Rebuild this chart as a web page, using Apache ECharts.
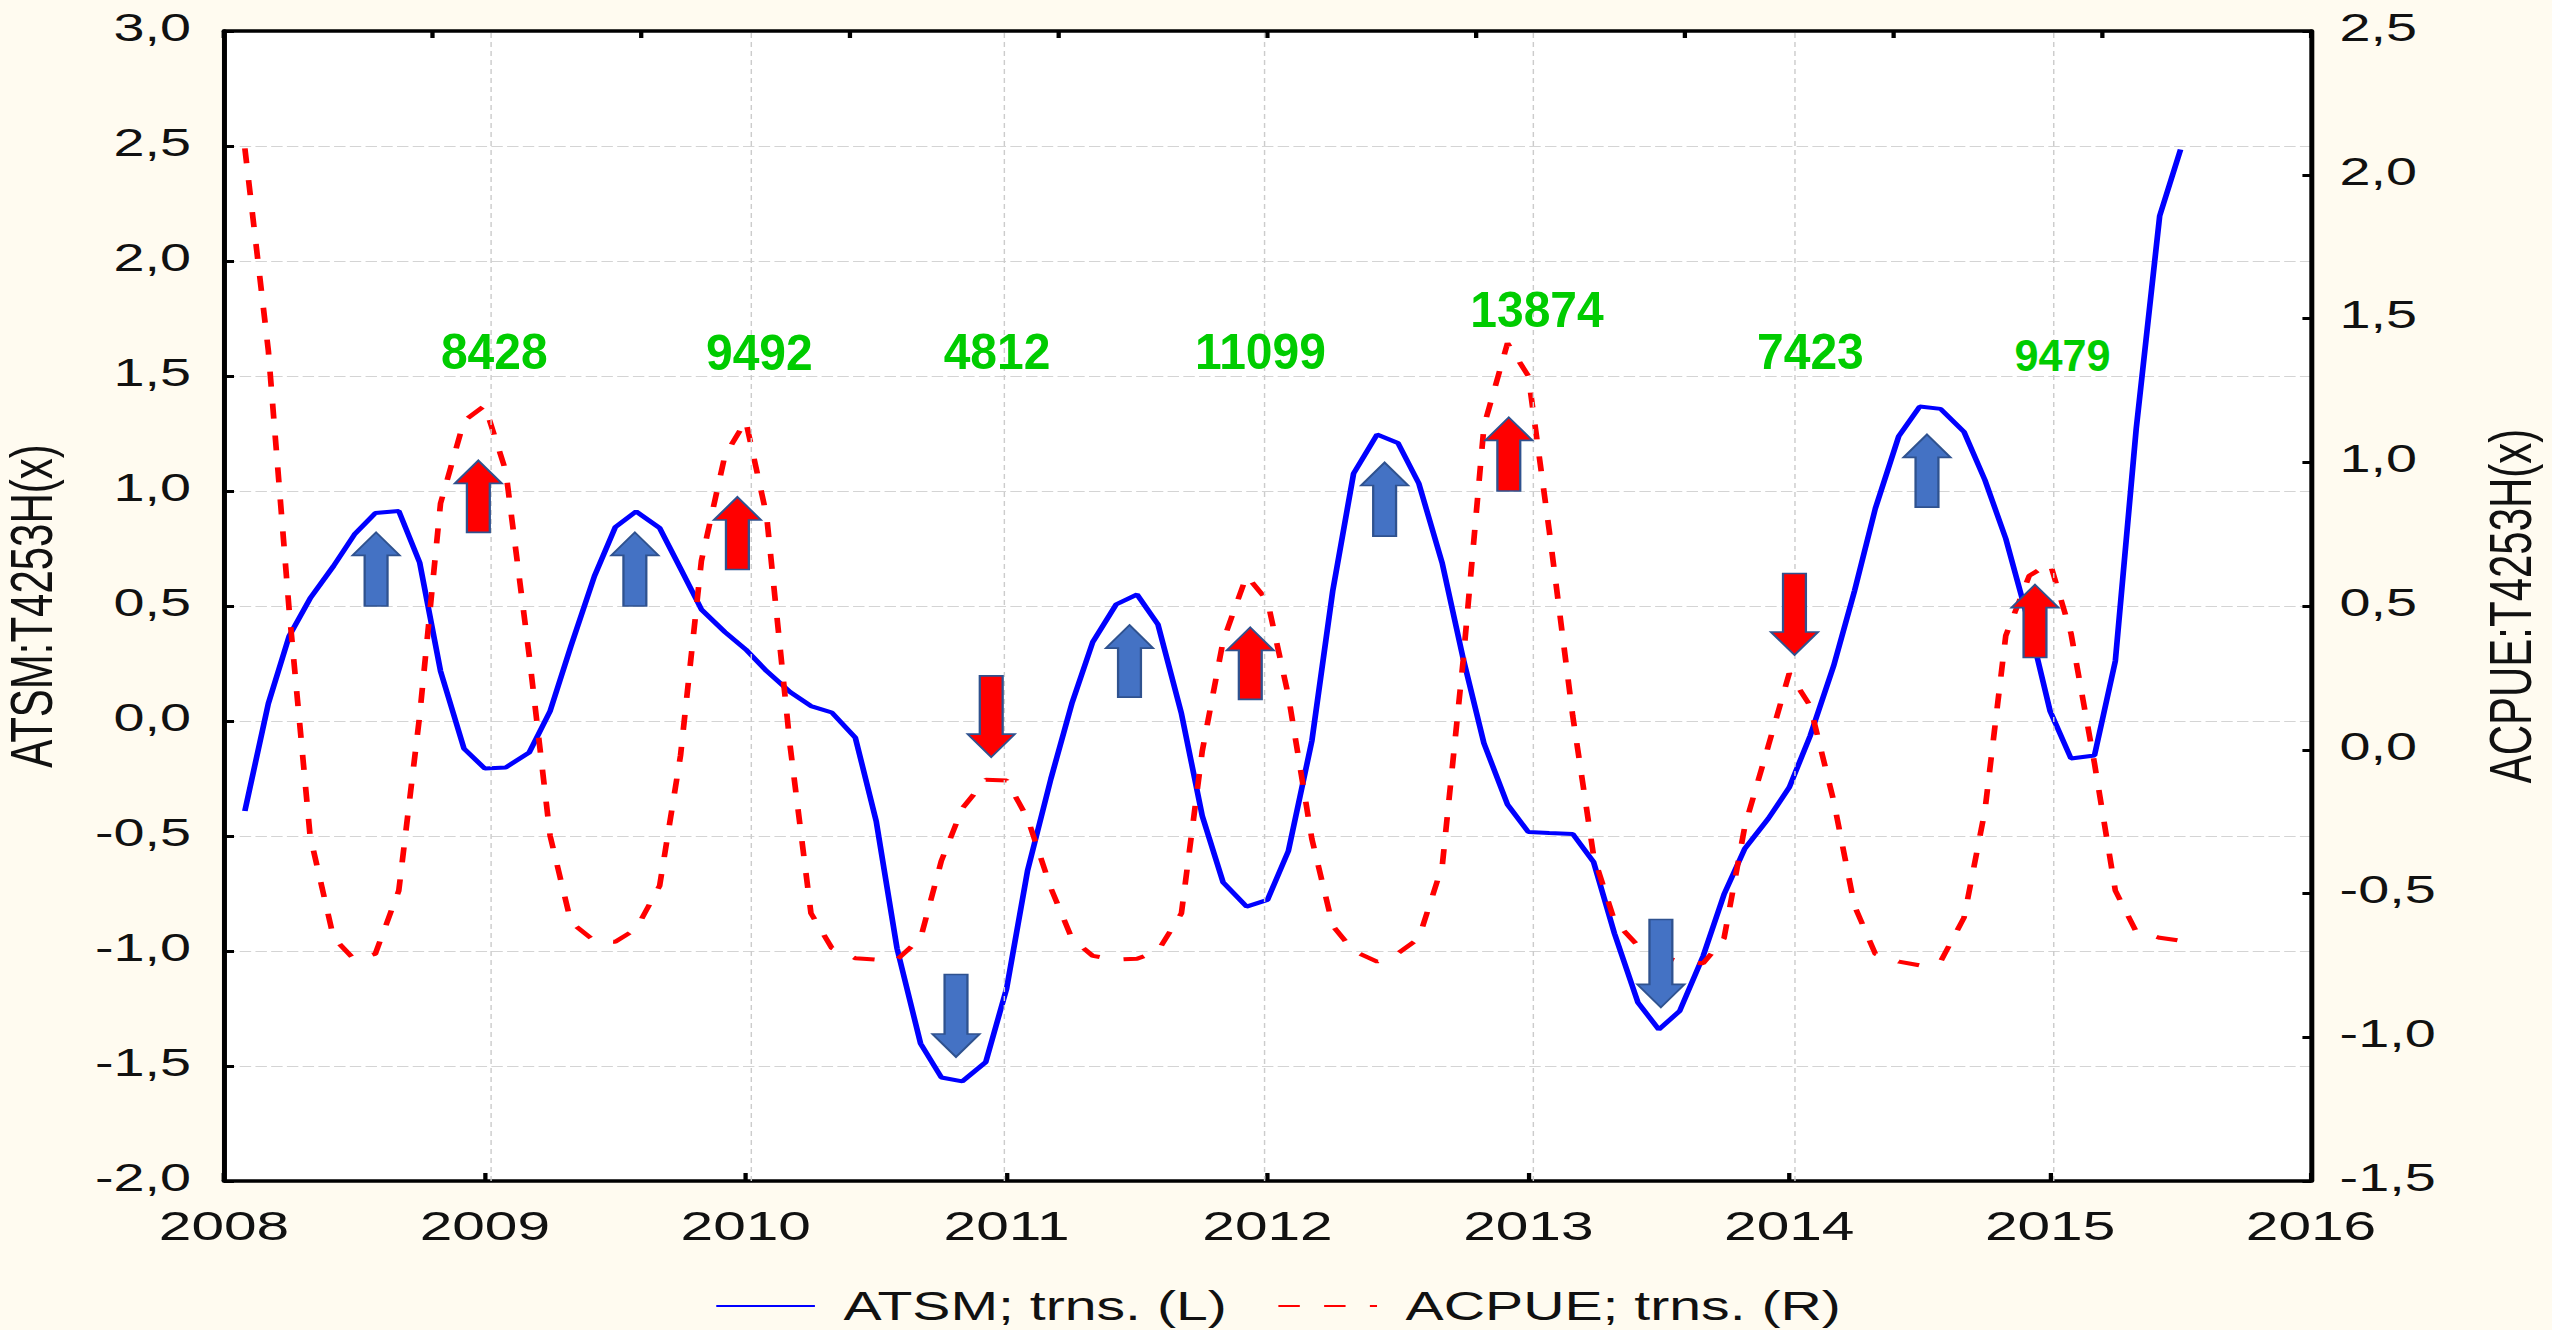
<!DOCTYPE html>
<html>
<head>
<meta charset="utf-8">
<script src="https://cdn.jsdelivr.net/npm/echarts@6/dist/echarts.min.js"></script>
<style>
html,body{margin:0;padding:0;background:#FFFBF0;overflow:hidden;width:2552px;height:1330px}
#c{width:1785px;height:1330px;transform-origin:0 0;transform:scaleX(1.42969)}
</style>
</head>
<body>
<div id="c"></div>
<script>
var dates=[2008.08,2008.17,2008.25,2008.33,2008.42,2008.5,2008.58,2008.67,2008.75,2008.83,2008.92,
2009,2009.08,2009.17,2009.25,2009.33,2009.42,2009.5,2009.58,2009.67,2009.75,2009.83,2009.92,
2010,2010.08,2010.17,2010.25,2010.33,2010.42,2010.5,2010.58,2010.67,2010.75,2010.83,2010.92,
2011,2011.08,2011.17,2011.25,2011.33,2011.42,2011.5,2011.58,2011.67,2011.75,2011.83,2011.92,
2012,2012.08,2012.17,2012.25,2012.33,2012.42,2012.5,2012.58,2012.67,2012.75,2012.83,2012.92,
2013,2013.08,2013.17,2013.25,2013.33,2013.42,2013.5,2013.58,2013.67,2013.75,2013.83,2013.92,
2014,2014.08,2014.17,2014.25,2014.33,2014.42,2014.5,2014.58,2014.67,2014.75,2014.83,2014.92,
2015,2015.08,2015.17,2015.25,2015.33,2015.42,2015.5];
var atsm=[-0.391,0.076,0.370,0.533,0.674,0.811,0.904,0.913,0.689,0.217,-0.120,
-0.207,-0.202,-0.137,0.043,0.326,0.630,0.843,0.911,0.839,0.663,0.485,0.387,
0.311,0.217,0.126,0.065,0.037,-0.072,-0.435,-0.989,-1.402,-1.55,-1.567,-1.483,
-1.163,-0.652,-0.25,0.076,0.343,0.507,0.55,0.42,0.033,-0.413,-0.702,-0.807,
-0.778,-0.565,-0.087,0.565,1.076,1.246,1.209,1.033,0.685,0.272,-0.098,-0.363,
-0.483,-0.487,-0.491,-0.613,-0.924,-1.224,-1.341,-1.261,-1.022,-0.754,-0.554,-0.424,
-0.289,-0.065,0.239,0.565,0.924,1.239,1.367,1.357,1.257,1.048,0.793,0.42,
0.043,-0.163,-0.15,0.261,1.27,2.196,2.485];
var acpue=[2.092,1.388,0.483,-0.299,-0.654,-0.73,-0.71,-0.49,0.118,0.857,1.144,
1.197,0.97,0.327,-0.299,-0.6,-0.665,-0.668,-0.623,-0.473,-0.02,0.657,1.023,
1.144,0.814,0.014,-0.569,-0.69,-0.725,-0.73,-0.73,-0.656,-0.386,-0.204,-0.104,
-0.107,-0.238,-0.482,-0.656,-0.717,-0.73,-0.727,-0.7,-0.569,-0.004,0.379,0.605,
0.518,0.188,-0.31,-0.612,-0.70,-0.737,-0.708,-0.656,-0.403,0.31,1.127,1.414,
1.3,0.762,0.118,-0.369,-0.595,-0.682,-0.717,-0.737,-0.743,-0.656,-0.265,0.014,
0.266,0.153,-0.177,-0.543,-0.71,-0.737,-0.75,-0.737,-0.584,-0.212,0.397,0.605,
0.649,0.405,-0.047,-0.49,-0.633,-0.654,-0.664];
var yearGrid=[2009.015,2010.02,2010.99,2011.995,2013.02,2014.02,2015.005];
var seriesNames=['ATSM; trns. (L)','ACPUE; trns. (R)'];
var leftAxisName='ATSM:T4253H(x)';
var rightAxisName='ACPUE:T4253H(x)';
var catchLabels=['8428','9492','4812','11099','13874','7423','9479'];
var catchYear=[2009.036,2010.052,2010.963,2011.973,2013.033,2014.081,2015.047];
var catchLevel=[1.604,1.60,1.608,1.608,1.789,1.605,1.589];
var catchSize=[50,50,50,50,50,50,45];
var arrowYear=[2008.583,2008.975,2009.575,2009.968,2010.941,2010.806,2011.471,2011.934,2012.449,2012.925,2013.508,2014.02,2014.528,2014.942];
var arrowTip=[0.82,1.133,0.82,0.974,-0.157,-1.461,0.417,0.407,1.124,1.32,-1.245,0.287,1.246,0.593];
var arrowTail=[0.5,0.82,0.5,0.659,0.196,-1.102,0.104,0.094,0.804,1.0,-0.863,0.641,0.93,0.276];
var arrowKind=['b','r','b','r','r','b','b','r','b','r','b','r','b','r'];

var S=2552/1785;
var BLUE='#0000FF',RED='#FF0000';
var FONT='"Liberation Sans",Arial,sans-serif';
function pair(a,b){return a.map(function(v,i){return [v,b[i]];});}
var comma=function(v){return v.toFixed(1).replace('.',',');};
var tickCol='#000';

var chart=echarts.init(document.getElementById('c'),null,{renderer:'svg',width:1785,height:1330});
chart.setOption({
  animation:false,
  backgroundColor:'#FFFBF0',
  textStyle:{fontFamily:FONT},
  grid:{left:224/S,top:31,width:(2311-224)/S,height:1150,show:true,backgroundColor:'#fff',borderWidth:0,outerBoundsMode:'none'},
  legend:{
    data:seriesNames,left:495,top:1281,itemWidth:69,itemHeight:20,itemGap:35,
    itemStyle:{opacity:0},
    textStyle:{fontSize:40,color:'#111',fontFamily:FONT,padding:[0,0,0,15]}
  },
  xAxis:[{
    type:'value',min:2008,max:2016,interval:1,position:'bottom',
    axisLine:{onZero:false,lineStyle:{color:tickCol,width:3.5}},
    axisTick:{inside:true,length:8,lineStyle:{color:tickCol,width:3}},
    axisLabel:{fontSize:41,color:'#111',margin:24,fontFamily:FONT,formatter:function(v){return String(v);},showMinLabel:true,showMaxLabel:true},
    splitLine:{show:false}
  },{
    type:'value',min:0,max:10,interval:1,position:'top',
    axisLine:{onZero:false,lineStyle:{color:tickCol,width:3.5}},
    axisTick:{inside:true,length:7,lineStyle:{color:tickCol,width:3}},
    axisLabel:{show:false},splitLine:{show:false}
  }],
  yAxis:[{
    type:'value',min:-2,max:3,interval:0.5,position:'left',
    name:leftAxisName,nameLocation:'middle',nameRotate:90,nameGap:114,
    nameTextStyle:{fontSize:42,color:'#111',fontFamily:FONT},
    axisLine:{onZero:false,lineStyle:{color:tickCol,width:3.5}},
    axisTick:{inside:true,length:7,lineStyle:{color:tickCol,width:3}},
    axisLabel:{fontSize:39,color:'#111',margin:23,verticalAlign:'bottom',lineHeight:8,fontFamily:FONT,formatter:comma,showMinLabel:true,showMaxLabel:true},
    splitLine:{show:true,lineStyle:{color:'#d4d4d4',width:1,type:[8,3]}}
  },{
    type:'value',min:-1.5,max:2.5,interval:0.5,position:'right',
    name:rightAxisName,nameLocation:'middle',nameRotate:90,nameGap:118,
    nameTextStyle:{fontSize:42,color:'#111',fontFamily:FONT},
    axisLine:{onZero:false,lineStyle:{color:tickCol,width:3.5}},
    axisTick:{inside:true,length:6,lineStyle:{color:tickCol,width:3}},
    axisLabel:{fontSize:39,color:'#111',margin:20,verticalAlign:'bottom',lineHeight:8,fontFamily:FONT,formatter:comma,showMinLabel:true,showMaxLabel:true},
    splitLine:{show:false}
  }],
  series:[
    {name:'yearGrid',type:'line',xAxisIndex:0,yAxisIndex:0,data:[],symbol:'none',z:1,silent:true,
      markLine:{silent:true,symbol:'none',label:{show:false},animation:false,
        lineStyle:{color:'#cccccc',width:1,type:[5,4]},
        data:yearGrid.map(function(v){return {xAxis:v};})}},
    {name:seriesNames[0],type:'line',xAxisIndex:0,yAxisIndex:0,data:pair(dates,atsm),symbol:'none',z:3,
      lineStyle:{color:BLUE,width:4},itemStyle:{color:BLUE}},
    {name:seriesNames[1],type:'line',xAxisIndex:0,yAxisIndex:1,data:pair(dates,acpue),symbol:'none',z:4,
      lineStyle:{color:RED,width:4,type:[15,17]},itemStyle:{color:RED}},
    {name:'arrows',type:'custom',xAxisIndex:0,yAxisIndex:0,z:6,silent:true,clip:false,
      data:arrowYear.map(function(v,i){return [v,arrowTip[i],arrowTail[i]];}),
      encode:{x:0,y:[1,2]},
      renderItem:function(params,api){
        var tip=api.coord([api.value(0),api.value(1)]);
        var tail=api.coord([api.value(0),api.value(2)]);
        var x=tip[0],dir=tail[1]>tip[1]?1:-1,hw=16.5,sw=8,hh=23;
        var sh=tip[1]+dir*hh;
        return {type:'polygon',shape:{points:[[x,tip[1]],[x+hw,sh],[x+sw,sh],[x+sw,tail[1]],[x-sw,tail[1]],[x-sw,sh],[x-hw,sh]]},
          style:{fill:arrowKind[params.dataIndex]==='b'?'#4472C4':'#FF0000',stroke:'#2F528F',lineWidth:1.6}};
      }},
    {name:'catch',type:'custom',xAxisIndex:0,yAxisIndex:0,z:7,silent:true,clip:false,
      data:pair(catchYear,catchLevel),encode:{x:0,y:1},
      renderItem:function(params,api){
        var p=api.coord([api.value(0),api.value(1)]);
        var i=params.dataIndex;
        return {type:'text',x:p[0],y:p[1],scaleX:0.96/S,
          style:{text:catchLabels[i],fill:'#00CC00',font:'bold '+catchSize[i]+'px '+FONT,align:'center',verticalAlign:'middle',textAlign:'center',textVerticalAlign:'middle'}};
      }}
  ]
});
</script>
</body>
</html>
